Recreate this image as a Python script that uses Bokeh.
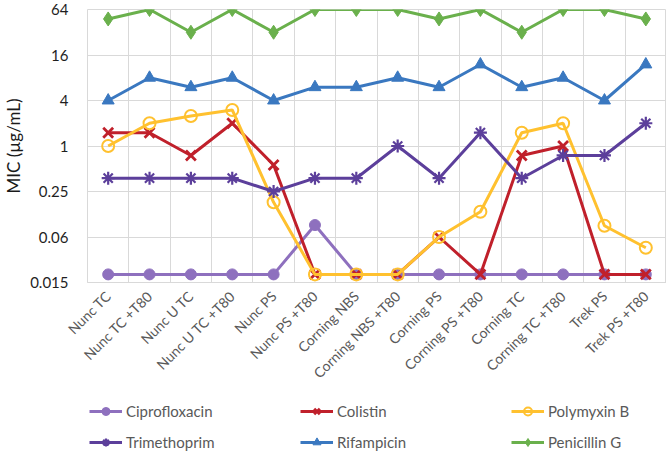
import math
from bokeh.plotting import figure
from bokeh.layouts import column
from bokeh.models import Range1d, FixedTicker, Legend, LegendItem
from bokeh.embed import file_html
from bokeh.resources import INLINE

categories = ["Nunc TC", "Nunc TC +T80", "Nunc U TC", "Nunc U TC +T80", "Nunc PS",
              "Nunc PS +T80", "Corning NBS", "Corning NBS +T80", "Corning PS",
              "Corning PS +T80", "Corning TC", "Corning TC +T80", "Trek PS", "Trek PS +T80"]

ciprofloxacin = [0.02, 0.02, 0.02, 0.02, 0.02, 0.09, 0.02, 0.02, 0.02, 0.02, 0.02, 0.02, 0.02, 0.02]
colistin = [1.5, 1.5, 0.75, 2, 0.56, 0.02, 0.02, 0.02, 0.0625, 0.02, 0.75, 1, 0.02, 0.02]
polymyxin_b = [1, 2, 2.5, 3, 0.18, 0.02, 0.02, 0.02, 0.0625, 0.135, 1.5, 2, 0.088, 0.045]
trimethoprim = [0.375, 0.375, 0.375, 0.375, 0.25, 0.375, 0.375, 1, 0.375, 1.5, 0.375, 0.75, 0.75, 2]
rifampicin = [4, 8, 6, 8, 4, 6, 6, 8, 6, 12, 6, 8, 4, 12]
penicillin_g = [48, 64, 32, 64, 32, 64, 64, 64, 48, 64, 32, 64, 64, 48]

y_ticks = [0.015625, 0.0625, 0.25, 1, 4, 16, 64]
y_tick_labels = ["0.015", "0.06", "0.25", "1", "4", "16", "64"]

FONT = "Lato"
x = list(range(len(categories)))

p = figure(width=666, height=390, y_axis_type="log", output_backend="svg",
           toolbar_location=None,
           x_range=Range1d(-0.5, len(categories) - 0.5),
           y_range=Range1d(y_ticks[0], y_ticks[-1]),
           min_border_left=79, min_border_right=0, min_border_top=9,
           min_border_bottom=105)
p.outline_line_color = "#d9d9d9"
p.background_fill_color = "white"
p.border_fill_color = "white"

# axes
p.xaxis.ticker = FixedTicker(ticks=x)
p.xaxis.major_label_overrides = {i: c for i, c in enumerate(categories)}
p.xaxis.major_label_orientation = math.pi / 4
p.xaxis.major_label_text_font = FONT
p.xaxis.major_label_text_font_size = "14px"
p.xaxis.major_label_text_color = "#595959"
p.xaxis.axis_line_color = "#d9d9d9"
p.xaxis.major_tick_line_color = None
p.xaxis.minor_tick_line_color = None
p.xaxis.major_label_standoff = 5

p.yaxis.ticker = FixedTicker(ticks=y_ticks, minor_ticks=[])
p.yaxis.major_label_overrides = {t: l for t, l in zip(y_ticks, y_tick_labels)}
p.yaxis.major_label_text_font = FONT
p.yaxis.major_label_text_font_size = "15px"
p.yaxis.major_label_text_color = "#1f1f1f"
p.yaxis.axis_line_color = None
p.yaxis.major_tick_line_color = None
p.yaxis.minor_tick_line_color = None
p.yaxis.major_label_standoff = 13
p.yaxis.axis_label = "MIC (µg/mL)"
p.yaxis.axis_label_text_font = FONT
p.yaxis.axis_label_text_font_size = "17px"
p.yaxis.axis_label_text_font_style = "normal"
p.yaxis.axis_label_text_color = "#1a1a1a"
p.yaxis.axis_label_standoff = 3

p.xgrid.ticker = FixedTicker(ticks=[i - 0.5 for i in range(len(categories) + 1)])
p.ygrid.ticker = FixedTicker(ticks=y_ticks)
p.xgrid.grid_line_color = "#d9d9d9"
p.ygrid.grid_line_color = "#d9d9d9"

series = [
    ("Ciprofloxacin", ciprofloxacin, "#8E70BE", "circle", 11, dict(fill_color="#8E70BE")),
    ("Colistin", colistin, "#C0202B", "x", 14, dict(line_width=2.8)),
    ("Polymyxin B", polymyxin_b, "#FFC12F", "circle", 12, dict(fill_alpha=0, line_width=2)),
    ("Trimethoprim", trimethoprim, "#5C3F9B", "asterisk", 13, dict(line_width=2.2)),
    ("Rifampicin", rifampicin, "#3A78C0", "triangle", 12, dict(fill_color="#3A78C0")),
    ("Penicillin G", penicillin_g, "#6AB04C", "diamond", 14, dict(fill_color="#6AB04C")),
]

# legend-only figure (its glyphs lie outside its ranges, so only the legend shows)
pl = figure(width=666, height=62, output_backend="svg", toolbar_location=None,
            x_range=Range1d(1000, 1001), y_range=Range1d(1000, 1001),
            x_axis_location=None, y_axis_location=None,
            min_border_left=0, min_border_right=0, min_border_top=0, min_border_bottom=0)
pl.outline_line_color = None
pl.xgrid.visible = False
pl.ygrid.visible = False

items = []
for name, vals, color, marker, size, kw in series:
    p.line(x, vals, line_color=color, line_width=3)
    p.scatter(x, vals, marker=marker, size=size, line_color=color, **kw)
    ln = pl.line(x, vals, line_color=color, line_width=3)
    sc = pl.scatter(x, vals, marker=marker, size=size, line_color=color, **kw)
    items.append(LegendItem(label=name, renderers=[ln, sc]))

legend = Legend(items=items, ncols=3, orientation="horizontal",
                label_text_font=FONT, label_text_font_size="15px",
                label_text_color="#595959", glyph_width=33, glyph_height=20,
                label_width=163, label_standoff=4, spacing=11,
                padding=0, margin=0, border_line_color=None,
                background_fill_alpha=0, location=(2, 0))
pl.add_layout(legend, "center")

layout = column(p, pl, spacing=0)
open("out.html", "w").write(file_html(layout, INLINE))
